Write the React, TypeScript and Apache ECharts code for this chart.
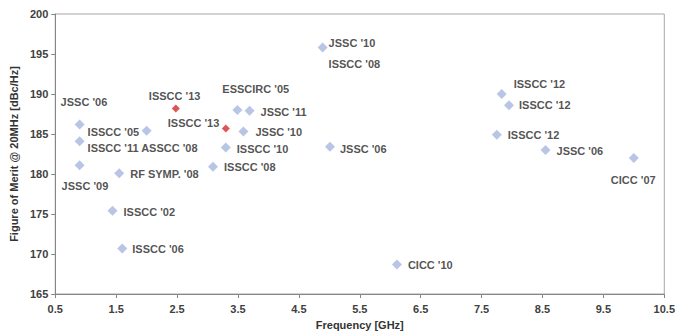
import React, { useEffect, useRef } from "react";
import * as echarts from "echarts";

// Blue points (published designs)
const freqGHz = [0.9, 0.9, 0.9, 2.0, 3.49, 3.69, 3.59, 3.3, 3.09, 1.55, 1.44, 1.6, 4.89, 5.01, 7.83, 7.95, 7.75, 8.55, 10.0, 6.11];
const fomDbc = [186.2, 184.1, 181.1, 185.4, 188.0, 187.9, 185.3, 183.3, 180.9, 180.1, 175.4, 170.7, 195.8, 183.4, 190.0, 188.6, 184.9, 183.0, 182.0, 168.7];
const pubLabels = [
  "JSSC '06",
  "ISSCC '11 ASSCC '08",
  "JSSC '09",
  "ISSCC '05",
  "ESSCIRC '05",
  "JSSC '11",
  "JSSC '10",
  "ISSCC '10",
  "ISSCC '08",
  "RF SYMP. '08",
  "ISSCC '02",
  "ISSCC '06",
  "JSSC '10\nISSCC '08",
  "JSSC '06",
  "ISSCC '12",
  "ISSCC '12",
  "ISSCC '12",
  "JSSC '06",
  "CICC '07",
  "CICC '10",
];

// Red points (this work)
const redFreqGHz = [2.48, 3.3];
const redFomDbc = [188.2, 185.7];
const redLabels = ["ISSCC '13", "ISSCC '13"];

// Tick settings
const xMin = 0.5;
const xMax = 10.5;
const xStep = 1;
const yMin = 165;
const yMax = 200;
const yStep = 5;

// Label placement (pixel offsets of label left edge / vertical centre from marker)
const blueLabelOffsets: [number, number][] = [
  [-19, -22],
  [8, 7],
  [-18, 21],
  [-59, 1],
  [-15, -21],
  [11, 1],
  [12, 0],
  [11, 1],
  [11, 0],
  [11, 1],
  [11, 1],
  [10, 1],
  [6, 6],
  [10, 2],
  [12, -10],
  [10, 0],
  [11, 0],
  [11, 1],
  [-23, 22],
  [11, 1],
];
const redLabelOffsets: [number, number][] = [
  [-27, -12],
  [-58, -5],
];

const FONT = "'Liberation Sans', Arial, Helvetica, sans-serif";

function buildData(xs: number[], ys: number[], labels: string[], offsets: [number, number][]) {
  return xs.map((x, i) => ({
    value: [x, ys[i]],
    label: {
      show: true,
      formatter: labels[i],
      position: "inside",
      align: "left",
      verticalAlign: "middle",
      offset: offsets[i],
      color: "#262626",
      fontSize: 11,
      fontWeight: "bold",
      fontFamily: FONT,
      lineHeight: 21,
    },
  }));
}

export default function App() {
  const ref = useRef<HTMLDivElement>(null);
  useEffect(() => {
    if (!ref.current) return;
    const chart = echarts.init(ref.current, undefined, { renderer: "svg" });
    chart.setOption({
      animation: false,
      backgroundColor: "#ffffff",
      grid: {
        left: 53,
        right: 12,
        top: 14,
        bottom: 39,
        show: true,
        borderColor: "#a6a6a6",
        borderWidth: 1,
        backgroundColor: "transparent",
      },
      xAxis: {
        type: "value",
        min: xMin,
        max: xMax,
        interval: xStep,
        name: "Frequency [GHz]",
        nameLocation: "middle",
        nameGap: 25,
        nameTextStyle: { fontSize: 11, fontWeight: "bold", color: "#333333", fontFamily: FONT },
        axisLine: { show: true, lineStyle: { color: "#868686", width: 1 } },
        axisTick: { show: true, length: 4, lineStyle: { color: "#868686" } },
        axisLabel: {
          fontSize: 11,
          fontWeight: "bold",
          color: "#404040",
          fontFamily: FONT,
          margin: 9,
          formatter: (v: number) => v.toFixed(1),
        },
        splitLine: { show: false },
      },
      yAxis: {
        type: "value",
        min: yMin,
        max: yMax,
        interval: yStep,
        name: "Figure of Merit @ 20MHz [dBc/Hz]",
        nameLocation: "middle",
        nameGap: 33,
        nameTextStyle: { fontSize: 11, fontWeight: "bold", color: "#333333", fontFamily: FONT },
        axisLine: { show: true, lineStyle: { color: "#868686", width: 1 } },
        axisTick: { show: true, length: 4, lineStyle: { color: "#868686" } },
        axisLabel: {
          fontSize: 11,
          fontWeight: "bold",
          color: "#404040",
          fontFamily: FONT,
          margin: 7,
        },
        splitLine: { show: false },
      },
      series: [
        {
          type: "scatter",
          symbol: "diamond",
          symbolSize: 10,
          itemStyle: { color: "#a7b6de" },
          data: buildData(freqGHz, fomDbc, pubLabels, blueLabelOffsets),
        },
        {
          type: "scatter",
          symbol: "diamond",
          symbolSize: 8,
          itemStyle: { color: "#d42a2a" },
          data: buildData(redFreqGHz, redFomDbc, redLabels, redLabelOffsets),
        },
      ],
    });
    return () => chart.dispose();
  }, []);
  return (
    <div
      ref={ref}
      style={{ position: "fixed", left: 0, top: 0, width: 678, height: 335, background: "#fff" }}
    />
  );
}
